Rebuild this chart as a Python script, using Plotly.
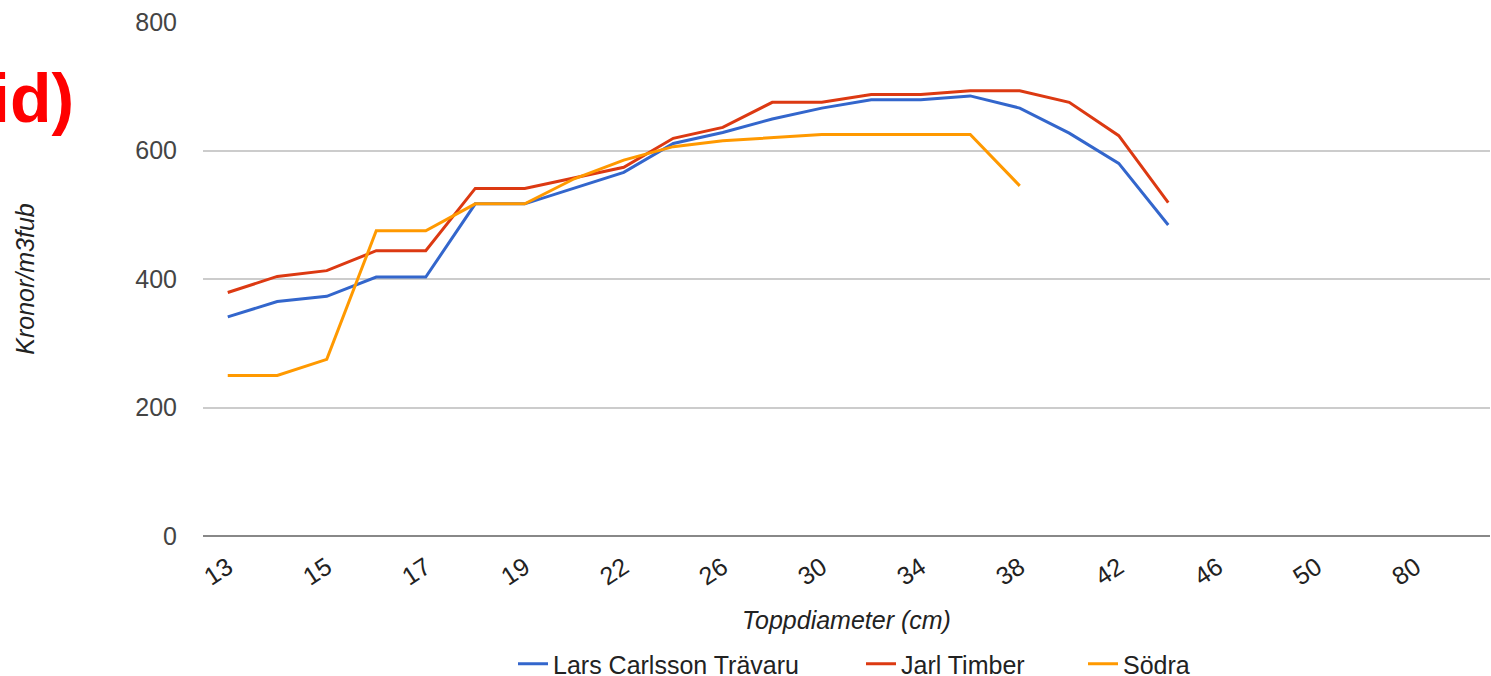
import plotly.graph_objects as go

categories = ["13", "14", "15", "16", "17", "18", "19", "20", "22", "24", "26", "28", "30",
              "32", "34", "36", "38", "40", "42", "44", "46", "48", "50", "60", "80", "100"]
tick_labels = ["13", "15", "17", "19", "22", "26", "30", "34", "38", "42", "46", "50", "80"]

lars = [341, 365, 373, 403, 403, 517, 517, 541, 566, 611, 628, 649, 666,
        679, 679, 685, 666, 627, 580, 484, None, None, None, None, None, None]
jarl = [379, 404, 413, 444, 444, 541, 541, 557, 574, 619, 636, 675, 675,
        687, 687, 693, 693, 675, 623, 519, None, None, None, None, None, None]
sodra = [250, 250, 275, 475, 475, 517, 517, 556, 585, 606, 615, 620, 625,
         625, 625, 625, 545, None, None, None, None, None, None, None, None, None]

series = [
    ("Lars Carlsson Trävaru", lars, "#3366cc"),
    ("Jarl Timber", jarl, "#dc3912"),
    ("Södra", sodra, "#ff9900"),
]
legend_ids = ["legend", "legend2", "legend3"]
legend_left_px = [513, 861, 1083]

FONT = "Liberation Sans, Arial, sans-serif"

fig = go.Figure()
for (name, vals, color), lid in zip(series, legend_ids):
    fig.add_trace(go.Scatter(
        x=categories, y=vals, name=name, mode="lines", legend=lid,
        line=dict(color=color, width=3), connectgaps=False,
    ))

legend_common = dict(orientation="h", xref="container", yref="container",
                     y=12 / 676, yanchor="middle", xanchor="left",
                     font=dict(size=25, color="#222222"), bgcolor="rgba(0,0,0,0)")

fig.update_layout(
    width=1491, height=676,
    margin=dict(l=203, r=1, t=22, b=140, autoexpand=False),
    paper_bgcolor="white", plot_bgcolor="white",
    font=dict(family=FONT, size=25, color="#222222"),
    showlegend=True,
    legend=dict(x=legend_left_px[0] / 1491, **legend_common),
    legend2=dict(x=legend_left_px[1] / 1491, **legend_common),
    legend3=dict(x=legend_left_px[2] / 1491, **legend_common),
    xaxis=dict(
        type="category", categoryorder="array", categoryarray=categories,
        range=[-0.5, len(categories) - 0.5], automargin=False,
        tickmode="array", tickvals=tick_labels, ticktext=tick_labels,
        tickangle=-33, tickfont=dict(size=25, color="#222222"),
        showgrid=False, showline=False, ticks="", ticklabelstandoff=11,
        title=dict(text="<i>Toppdiameter (cm)</i>", font=dict(size=25, color="#222222"),
                   standoff=22),
    ),
    yaxis=dict(
        range=[0, 800], tickvals=[0, 200, 400, 600, 800], automargin=False,
        tickfont=dict(size=25, color="#444444"),
        showgrid=True, gridcolor="#cccccc", gridwidth=1.5,
        zeroline=True, zerolinecolor="#888888", zerolinewidth=2,
        showline=False, ticks="", ticklabelstandoff=25,
        title=dict(text="<i>Kronor/m3fub</i>", font=dict(size=25, color="#222222"),
                   standoff=93),
    ),
    annotations=[dict(
        text="<b>id)</b>", xref="paper", yref="paper",
        x=(76 - 203) / 1287, y=(536 - 98) / 514, xanchor="right", yanchor="middle",
        showarrow=False, font=dict(family=FONT, size=68, color="#ff0000"),
    )],
)

fig.write_html("out.html")
